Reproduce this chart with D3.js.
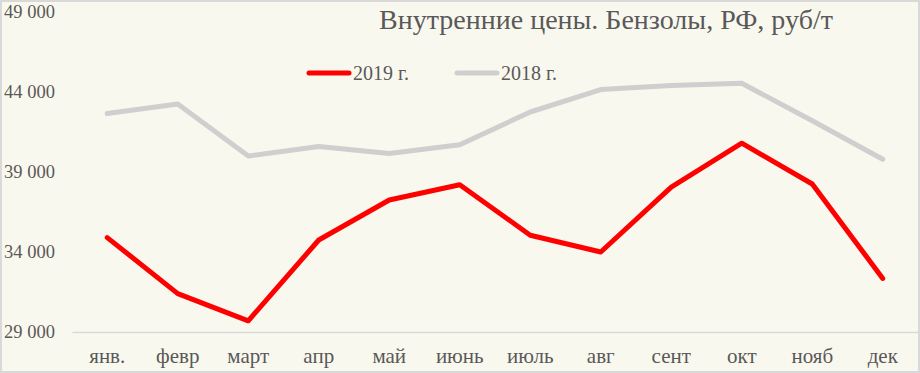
<!DOCTYPE html>
<html>
<head>
<meta charset="utf-8">
<script src="https://cdn.jsdelivr.net/npm/d3@7"></script>
<style>
  body { margin: 0; background: #fff; }
  svg { display: block; }
  text { font-family: "Liberation Serif", "DejaVu Serif", serif; fill: #595959; }
</style>
</head>
<body>
<div id="chart-area"></div>
<script>
// data
var months = ["янв.", "февр", "март", "апр", "май", "июнь", "июль", "авг", "сент", "окт", "нояб", "дек"];
var values2019 = [34900, 31400, 29700, 34750, 37250, 38200, 35050, 34000, 38050, 40800, 38250, 32350];
var values2018 = [42650, 43250, 40000, 40600, 40150, 40700, 42750, 44150, 44400, 44550, 42200, 39800];
var yTicks = [29000, 34000, 39000, 44000, 49000];
var seriesNames = ["2019 г.", "2018 г."];
var seriesColors = ["#ff0000", "#d0cece"];

var W = 920, H = 373;
var margin = { left: 72, right: 2, top: 12, bottom: 41 };
var width = W - margin.left - margin.right,
    height = H - margin.top - margin.bottom;

var svg = d3.select("#chart-area")
    .append("svg")
        .attr("width", W)
        .attr("height", H);

// background + frame
svg.append("rect")
    .attr("x", 1).attr("y", 1)
    .attr("width", W - 2).attr("height", H - 2)
    .attr("fill", "#f9f8ee")
    .attr("stroke", "#d9d9d9")
    .attr("stroke-width", 2);

var g = svg.append("g")
    .attr("transform", "translate(" + margin.left + "," + margin.top + ")");

var x = d3.scaleBand()
    .domain(months)
    .range([0, width]);

var y = d3.scaleLinear()
    .domain([29000, 49000])
    .range([height, 0]);

var fmt = function(d) { return d3.format(",")(d).replace(",", " "); };

// Y axis labels
var yAxisCall = d3.axisLeft(y)
    .tickValues(yTicks)
    .tickSize(0)
    .tickPadding(0)
    .tickFormat(fmt);
var yAxis = g.append("g")
    .attr("class", "y axis")
    .attr("transform", "translate(-68,0)")
    .call(yAxisCall);
yAxis.select(".domain").remove();
yAxis.selectAll("text")
    .attr("text-anchor", "start")
    .attr("font-size", "18.5px");

// X axis
var xAxisCall = d3.axisBottom(x)
    .tickSize(0)
    .tickPadding(16);
var xAxis = g.append("g")
    .attr("class", "x axis")
    .attr("transform", "translate(0," + height + ")")
    .call(xAxisCall);
xAxis.select(".domain")
    .attr("stroke", "#d9d9d9")
    .attr("stroke-width", 1.5);
xAxis.selectAll("text")
    .attr("font-size", "21px");

// Lines
var line = d3.line()
    .x(function(d, i) { return x(months[i]) + x.bandwidth() / 2; })
    .y(function(d) { return y(d); });

[values2018, values2019].forEach(function(vals, k) {
    g.append("path")
        .datum(vals)
        .attr("fill", "none")
        .attr("stroke", k === 0 ? seriesColors[1] : seriesColors[0])
        .attr("stroke-width", 5)
        .attr("stroke-linejoin", "round")
        .attr("stroke-linecap", "round")
        .attr("d", line);
});

// Title
svg.append("text")
    .attr("x", 606)
    .attr("y", 29)
    .attr("text-anchor", "middle")
    .attr("font-size", "28px")
    .text("Внутренние цены. Бензолы, РФ, руб/т");

// Legend
var legendX = [309, 457];
seriesNames.forEach(function(name, i) {
    var row = svg.append("g")
        .attr("transform", "translate(" + legendX[i] + ",73)");
    row.append("line")
        .attr("x1", 0).attr("x2", 40)
        .attr("stroke", seriesColors[i])
        .attr("stroke-width", 5)
        .attr("stroke-linecap", "round");
    row.append("text")
        .attr("x", 44)
        .attr("y", 7)
        .attr("font-size", "20px")
        .text(name);
});
</script>
</body>
</html>
